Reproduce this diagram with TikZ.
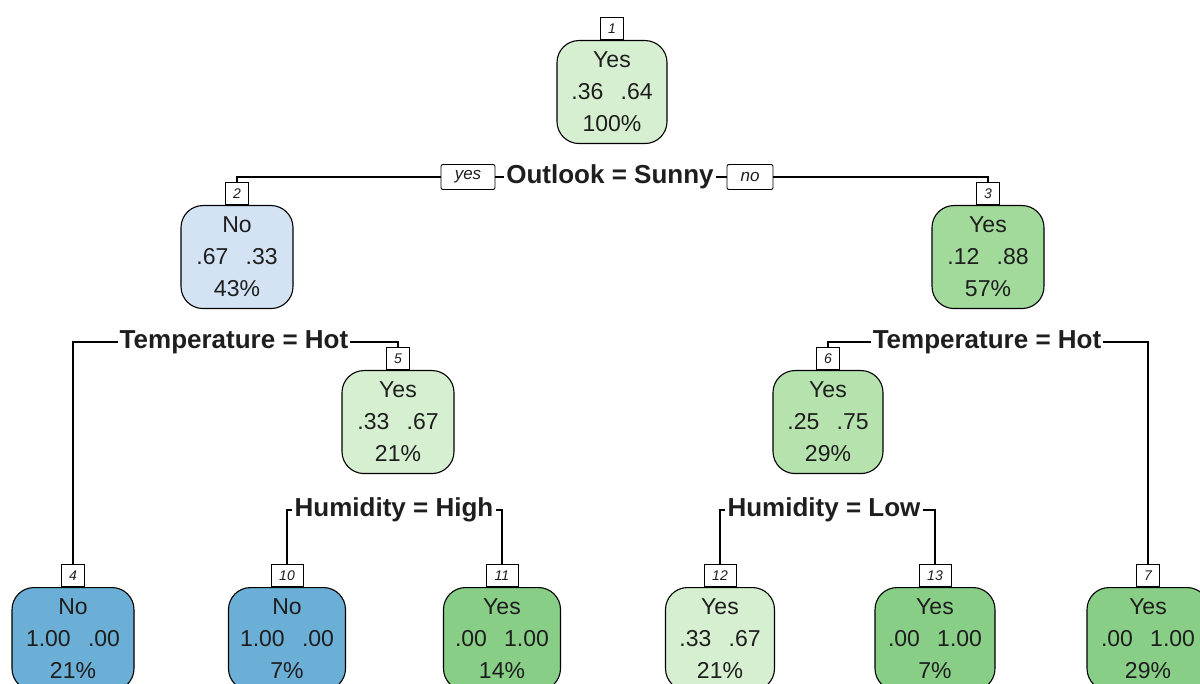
\documentclass[tikz,border=0pt]{standalone}
\usepackage{fontspec}
\setmainfont{Liberation Sans}
\definecolor{lgreen}{HTML}{D6EFD0}
\definecolor{mgreen}{HTML}{A1DA9B}
\definecolor{sgreen}{HTML}{B5E2AD}
\definecolor{dgreen}{HTML}{88CE87}
\definecolor{lblue}{HTML}{D3E3F4}
\definecolor{dblue}{HTML}{6BAED6}
\definecolor{ink}{HTML}{1E1E1E}
\newcommand{\probs}[2]{#1\hspace{0.75em}#2}
\begin{document}
\begin{tikzpicture}[x=1pt,y=-1pt,
  tn/.style={draw=black, line width=1.1pt, rounded corners=22pt,
    minimum height=103pt, inner sep=0pt, align=center, anchor=north,
    text=ink, font=\fontsize{23}{32}\selectfont},
  numbox/.style={draw=black, fill=white, line width=0.9pt, anchor=south,
    minimum width=23pt, minimum height=22pt, inner sep=1pt,
    text=ink, font=\fontsize{14}{14}\selectfont\itshape},
  yn/.style={draw=black, fill=white, line width=0.9pt, rounded corners=2pt,
    minimum height=25pt, inner sep=3pt,
    text=ink, font=\fontsize{17}{17}\selectfont\itshape},
  split/.style={inner sep=2pt, text=ink,
    font=\fontsize{26}{26}\selectfont\bfseries},
  edge/.style={draw=black, line width=1.2pt}]
\useasboundingbox (0,0) rectangle (1200,684);
\clip (0,0) rectangle (1200,684);

% tree nodes: class, class probabilities, share of observations
\node[tn, fill=lgreen, minimum width=110] (n1)  at (612,40)  {Yes\\\probs{.36}{.64}\\100\%};
\node[tn, fill=lblue,  minimum width=112] (n2)  at (237,205) {No\\\probs{.67}{.33}\\43\%};
\node[tn, fill=mgreen, minimum width=112] (n3)  at (988,205) {Yes\\\probs{.12}{.88}\\57\%};
\node[tn, fill=lgreen, minimum width=112] (n5)  at (398,370) {Yes\\\probs{.33}{.67}\\21\%};
\node[tn, fill=sgreen, minimum width=110] (n6)  at (828,370) {Yes\\\probs{.25}{.75}\\29\%};
\node[tn, fill=dblue,  minimum width=122] (n4)  at (73,587)  {No\\\probs{1.00}{.00}\\21\%};
\node[tn, fill=dblue,  minimum width=117] (n10) at (287,587) {No\\\probs{1.00}{.00}\\7\%};
\node[tn, fill=dgreen, minimum width=117] (n11) at (502,587) {Yes\\\probs{.00}{1.00}\\14\%};
\node[tn, fill=lgreen, minimum width=109] (n12) at (720,587) {Yes\\\probs{.33}{.67}\\21\%};
\node[tn, fill=dgreen, minimum width=120] (n13) at (935,587) {Yes\\\probs{.00}{1.00}\\7\%};
\node[tn, fill=dgreen, minimum width=122] (n7)  at (1148,587) {Yes\\\probs{.00}{1.00}\\29\%};

% node numbers
\node[numbox] (b1)  at (n1.north)  {1};
\node[numbox] (b2)  at (n2.north)  {2};
\node[numbox] (b3)  at (n3.north)  {3};
\node[numbox] (b4)  at (n4.north)  {4};
\node[numbox] (b5)  at (n5.north)  {5};
\node[numbox] (b6)  at (n6.north)  {6};
\node[numbox] (b7)  at (n7.north)  {7};
\node[numbox, minimum width=32pt] (b10) at (n10.north) {10};
\node[numbox, minimum width=32pt] (b11) at (n11.north) {11};
\node[numbox, minimum width=32pt] (b12) at (n12.north) {12};
\node[numbox, minimum width=32pt] (b13) at (n13.north) {13};

% split rules
\node[split] (s1) at (610,177) {Outlook = Sunny};
\node[yn, minimum width=54pt] (yes) at (468,177) {yes};
\node[yn, minimum width=46pt] (no)  at (750,177) {no};
\node[split] (s2) at (234,342) {Temperature = Hot};
\node[split] (s3) at (987,342) {Temperature = Hot};
\node[split] (s4) at (394,510) {Humidity = High};
\node[split] (s5) at (824,510) {Humidity = Low};

% branches
\draw[edge] (yes.west) -| (b2.north);
\draw[edge] (yes.east) -- (s1.west);
\draw[edge] (s1.east) -- (no.west);
\draw[edge] (no.east) -| (b3.north);
\draw[edge] (s2.west) -| (b4.north);
\draw[edge] (s2.east) -| (b5.north);
\draw[edge] (s3.west) -| (b6.north);
\draw[edge] (s3.east) -| (b7.north);
\draw[edge] (s4.west) -| (b10.north);
\draw[edge] (s4.east) -| (b11.north);
\draw[edge] (s5.west) -| (b12.north);
\draw[edge] (s5.east) -| (b13.north);
\end{tikzpicture}
\end{document}
